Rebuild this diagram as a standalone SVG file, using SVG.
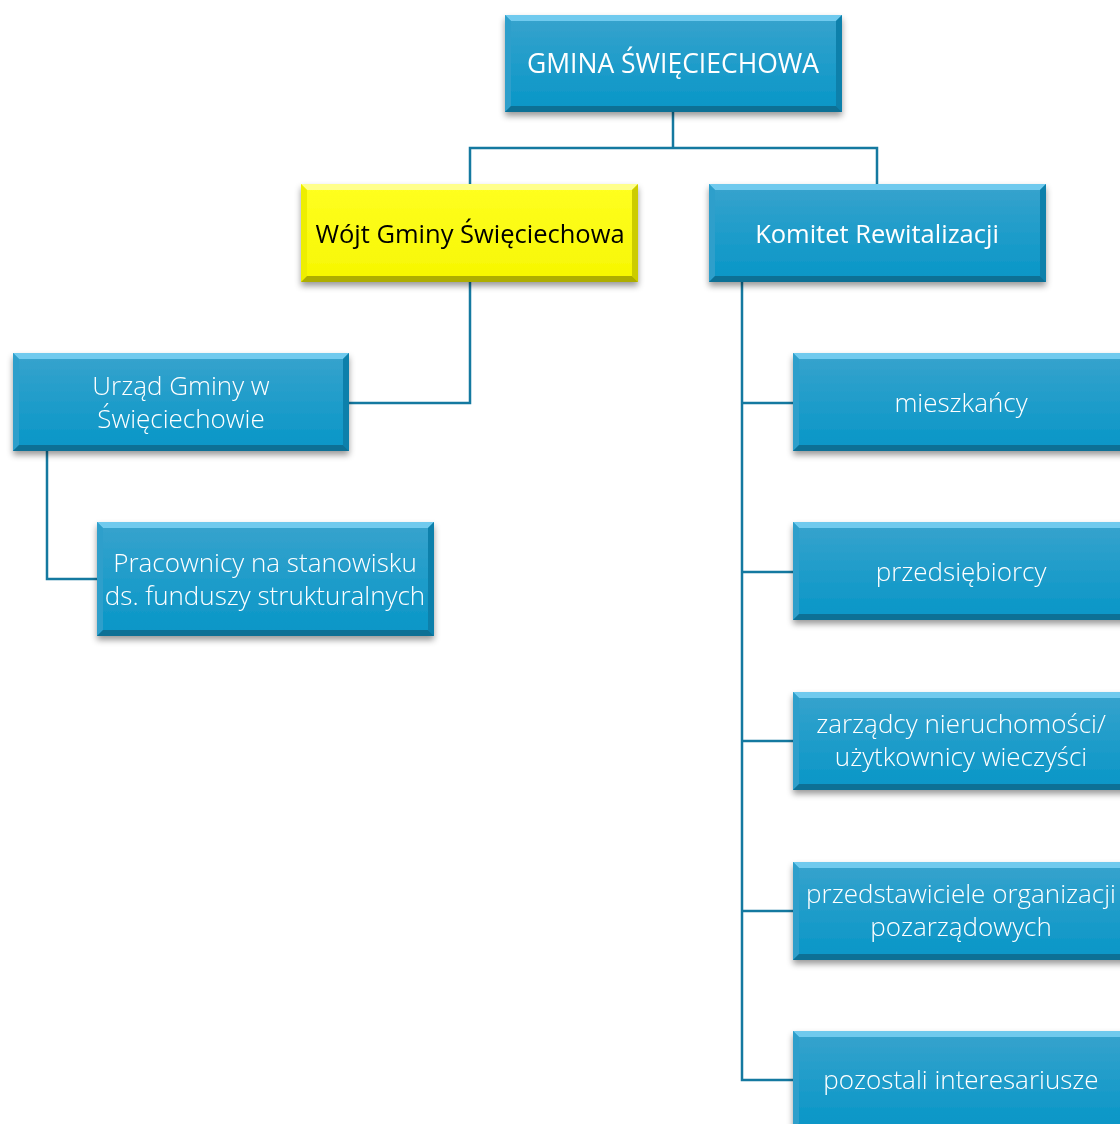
<svg xmlns="http://www.w3.org/2000/svg" width="1120" height="1124" viewBox="0 0 1120 1124">
<defs>
<linearGradient id="gb" x1="0" y1="0" x2="0" y2="1">
<stop offset="0" stop-color="#38a3cd"/>
<stop offset="1" stop-color="#0796c7"/>
</linearGradient>
<linearGradient id="gy" x1="0" y1="0" x2="0" y2="1">
<stop offset="0" stop-color="#ffff22"/>
<stop offset="1" stop-color="#f6f600"/>
</linearGradient>
<filter id="sh" x="-10%" y="-10%" width="120%" height="130%">
<feDropShadow dx="0" dy="4" stdDeviation="3" flood-color="#000" flood-opacity="0.4"/>
</filter>
</defs>
<style>
.box{filter:url(#sh)}
.fb{fill:url(#gb)}
.fy{fill:url(#gy)}
.bt{fill:#6fcaee}
.bl{fill:#2e9fcb}
.br{fill:#0b80ab}
.bb{fill:#0b6f95}
.yt{fill:#ffff8c}
.yl{fill:#eeee00}
.yr{fill:#cccc00}
.yb{fill:#adad00}
.con{fill:none;stroke:#1479a0;stroke-width:2.5}
.t{font-family:"Open Sans","Liberation Sans",sans-serif;font-size:26px;fill:#fff;text-anchor:middle;font-weight:300}
.tr{font-weight:400;font-size:25.5px}
.tk{fill:#000}
</style>
<g id="connectors">
<polyline class="con" points="673,112 673,148"/>
<polyline class="con" points="470,184 470,148 877,148 877,184"/>
<polyline class="con" points="470,282 470,403 349,403"/>
<polyline class="con" points="47,451 47,579 97,579"/>
<polyline class="con" points="742,282 742,1080 793,1080"/>
<line class="con" x1="742" y1="403" x2="793" y2="403"/>
<line class="con" x1="742" y1="572" x2="793" y2="572"/>
<line class="con" x1="742" y1="741" x2="793" y2="741"/>
<line class="con" x1="742" y1="911" x2="793" y2="911"/>
</g>
<g id="gmina" class="box">
<rect class="fb" x="505" y="15" width="337" height="97"/>
<polygon class="bt" points="505,15 842,15 836,21 511,21"/>
<polygon class="bl" points="505,15 511,21 511,106 505,112"/>
<polygon class="br" points="842,15 842,112 836,106 836,21"/>
<polygon class="bb" points="505,112 511,106 836,106 842,112"/>
<text class="t tr" x="673" y="73" style="font-size:26.5px">GMINA ŚWIĘCIECHOWA</text>
</g>
<g id="wojt" class="box">
<rect class="fy" x="301" y="184" width="337" height="98"/>
<polygon class="yt" points="301,184 638,184 632,190 307,190"/>
<polygon class="yl" points="301,184 307,190 307,276 301,282"/>
<polygon class="yr" points="638,184 638,282 632,276 632,190"/>
<polygon class="yb" points="301,282 307,276 632,276 638,282"/>
<text class="t tr tk" x="470" y="243">Wójt Gminy Święciechowa</text>
</g>
<g id="komitet" class="box">
<rect class="fb" x="709" y="184" width="337" height="98"/>
<polygon class="bt" points="709,184 1046,184 1040,190 715,190"/>
<polygon class="bl" points="709,184 715,190 715,276 709,282"/>
<polygon class="br" points="1046,184 1046,282 1040,276 1040,190"/>
<polygon class="bb" points="709,282 715,276 1040,276 1046,282"/>
<text class="t tr" x="877" y="243">Komitet Rewitalizacji</text>
</g>
<g id="urzad" class="box">
<rect class="fb" x="13" y="353" width="336" height="98"/>
<polygon class="bt" points="13,353 349,353 343,359 19,359"/>
<polygon class="bl" points="13,353 19,359 19,445 13,451"/>
<polygon class="br" points="349,353 349,451 343,445 343,359"/>
<polygon class="bb" points="13,451 19,445 343,445 349,451"/>
<text class="t" x="181" y="395">Urząd Gminy w</text>
<text class="t" x="181" y="428">Święciechowie</text>
</g>
<g id="pracownicy" class="box">
<rect class="fb" x="97" y="522" width="337" height="114"/>
<polygon class="bt" points="97,522 434,522 428,528 103,528"/>
<polygon class="bl" points="97,522 103,528 103,630 97,636"/>
<polygon class="br" points="434,522 434,636 428,630 428,528"/>
<polygon class="bb" points="97,636 103,630 428,630 434,636"/>
<text class="t" x="265" y="572">Pracownicy na stanowisku</text>
<text class="t" x="265" y="605">ds. funduszy strukturalnych</text>
</g>
<g id="mieszkancy" class="box">
<rect class="fb" x="793" y="353" width="337" height="98"/>
<polygon class="bt" points="793,353 1130,353 1124,359 799,359"/>
<polygon class="bl" points="793,353 799,359 799,445 793,451"/>
<polygon class="bb" points="793,451 799,445 1124,445 1130,451"/>
<text class="t" x="961" y="412">mieszkańcy</text>
</g>
<g id="przedsiebiorcy" class="box">
<rect class="fb" x="793" y="522" width="337" height="98"/>
<polygon class="bt" points="793,522 1130,522 1124,528 799,528"/>
<polygon class="bl" points="793,522 799,528 799,614 793,620"/>
<polygon class="bb" points="793,620 799,614 1124,614 1130,620"/>
<text class="t" x="961" y="581">przedsiębiorcy</text>
</g>
<g id="zarzadcy" class="box">
<rect class="fb" x="793" y="692" width="337" height="98"/>
<polygon class="bt" points="793,692 1130,692 1124,698 799,698"/>
<polygon class="bl" points="793,692 799,698 799,784 793,790"/>
<polygon class="bb" points="793,790 799,784 1124,784 1130,790"/>
<text class="t" x="961" y="733">zarządcy nieruchomości/</text>
<text class="t" x="961" y="766">użytkownicy wieczyści</text>
</g>
<g id="organizacje" class="box">
<rect class="fb" x="793" y="862" width="337" height="98"/>
<polygon class="bt" points="793,862 1130,862 1124,868 799,868"/>
<polygon class="bl" points="793,862 799,868 799,954 793,960"/>
<polygon class="bb" points="793,960 799,954 1124,954 1130,960"/>
<text class="t" x="961" y="903">przedstawiciele organizacji</text>
<text class="t" x="961" y="936">pozarządowych</text>
</g>
<g id="pozostali" class="box">
<rect class="fb" x="793" y="1031" width="337" height="98"/>
<polygon class="bt" points="793,1031 1130,1031 1124,1037 799,1037"/>
<polygon class="bl" points="793,1031 799,1037 799,1123 793,1129"/>
<text class="t" x="961" y="1089">pozostali interesariusze</text>
</g>
</svg>
